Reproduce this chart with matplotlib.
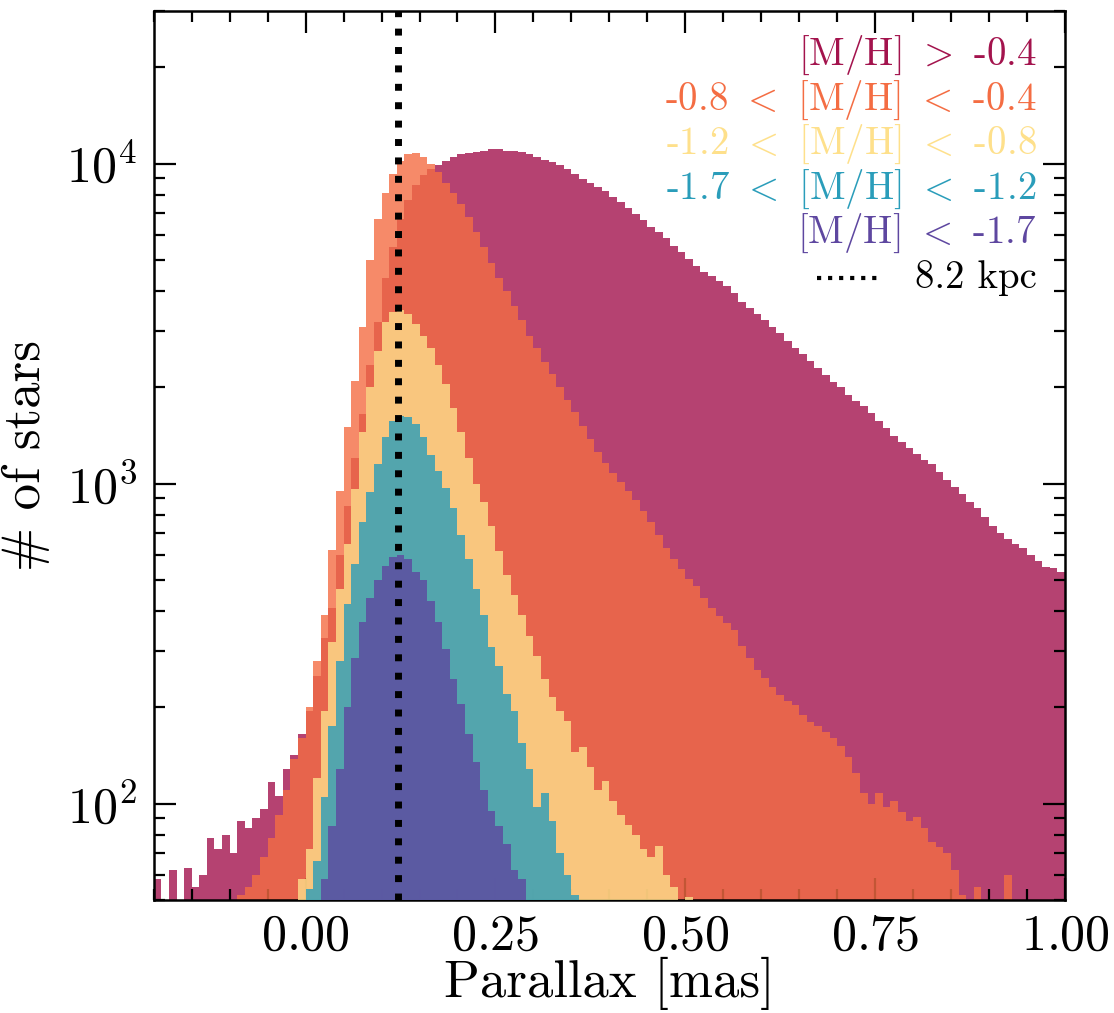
import numpy as np
import matplotlib.pyplot as plt
from matplotlib.ticker import MultipleLocator

plt.rcParams["font.family"] = "serif"
plt.rcParams["font.serif"] = ["cmr10"]
plt.rcParams["mathtext.fontset"] = "cm"
plt.rcParams["axes.formatter.use_mathtext"] = True
plt.rcParams["axes.unicode_minus"] = False

# parallax binning (mas): 120 bins of 0.01 from -0.2 to 1.0
bin_lo, bin_hi, n_bins = -0.2, 1.0, 120

# star counts per bin, one list per metallicity group
counts_gt_04 = [
    58, 48, 62, 45, 63, 55, 60, 78, 72, 80,
    70, 88, 84, 90, 96, 117, 106, 128, 142, 165,
    195, 250, 330, 410, 600, 850, 1200, 1650, 2350, 3200,
    4400, 5500, 6700, 7700, 8600, 9200, 9600, 9900, 10200, 10500,
    10700, 10800, 10900, 11000, 11100, 11100, 11000, 11000, 10900, 10700,
    10500, 10300, 10100, 9900, 9600, 9300, 8950, 8700, 8450, 8200,
    7900, 7600, 7300, 6950, 6650, 6350, 6100, 5850, 5550, 5300,
    5050, 4800, 4600, 4450, 4300, 4150, 3950, 3700, 3550, 3400,
    3250, 3100, 2950, 2800, 2650, 2550, 2420, 2300, 2180, 2080,
    2000, 1900, 1820, 1750, 1660, 1570, 1490, 1410, 1350, 1290,
    1240, 1190, 1150, 1090, 1030, 980, 930, 880, 840, 790,
    740, 700, 670, 650, 630, 600, 575, 550, 545, 530,
]
counts_08_04 = [
    0, 0, 0, 0, 0, 0, 0, 0, 0, 42,
    48, 52, 55, 60, 68, 78, 92, 110, 138, 160,
    200, 280, 390, 620, 950, 1500, 2100, 3100, 5000, 6700,
    8100, 9300, 10200, 10700, 10800, 10500, 10000, 9400, 8700, 8100,
    7500, 6800, 6100, 5500, 4900, 4400, 4000, 3600, 3250, 2900,
    2650, 2400, 2200, 2000, 1830, 1680, 1520, 1380, 1260, 1160,
    1080, 1010, 950, 890, 820, 760, 690, 630, 580, 540,
    505, 480, 440, 410, 385, 368, 350, 312, 285, 262,
    248, 232, 218, 210, 204, 190, 180, 175, 168, 160,
    152, 140, 125, 108, 100, 108, 98, 102, 94, 88,
    91, 84, 76, 73, 70, 62, 52, 48, 55, 47,
    45, 42, 60, 40, 38, 44, 36, 35, 33, 32,
]
counts_12_08 = [
    0, 0, 0, 0, 0, 0, 0, 0, 0, 0,
    0, 0, 0, 0, 0, 0, 0, 0, 40, 58,
    72, 120, 195, 320, 470, 650, 960, 1450, 2000, 2600,
    3200, 3450, 3500, 3400, 3150, 2900, 2650, 2350, 2050, 1720,
    1450, 1200, 1000, 880, 740, 615, 520, 450, 390, 335,
    290, 245, 215, 195, 182, 145, 150, 130, 110, 118,
    102, 92, 86, 80, 72, 68, 74, 60, 55, 42,
    51, 0, 0, 0, 0, 0, 0, 0, 0, 0,
    0, 0, 0, 0, 0, 0, 0, 0, 0, 0,
    0, 0, 0, 0, 0, 0, 0, 0, 0, 0,
    0, 0, 0, 0, 0, 0, 0, 0, 0, 0,
    0, 0, 0, 0, 0, 0, 0, 0, 0, 0,
]
counts_17_12 = [
    0, 0, 0, 0, 0, 0, 0, 0, 0, 0,
    0, 0, 0, 0, 0, 0, 0, 0, 0, 45,
    54, 66, 105, 175, 280, 420, 560, 760, 940, 1150,
    1400, 1570, 1630, 1620, 1540, 1400, 1230, 1100, 970, 840,
    690, 580, 470, 390, 310, 270, 220, 195, 155, 128,
    98, 108, 88, 70, 60, 52, 40, 0, 0, 0,
    0, 0, 0, 0, 0, 0, 0, 0, 0, 0,
    0, 0, 0, 0, 0, 0, 0, 0, 0, 0,
    0, 0, 0, 0, 0, 0, 0, 0, 0, 0,
    0, 0, 0, 0, 0, 0, 0, 0, 0, 0,
    0, 0, 0, 0, 0, 0, 0, 0, 0, 0,
    0, 0, 0, 0, 0, 0, 0, 0, 0, 0,
]
counts_lt_17 = [
    0, 0, 0, 0, 0, 0, 0, 0, 0, 0,
    0, 0, 0, 0, 0, 0, 0, 0, 0, 0,
    0, 42, 58, 85, 128, 200, 285, 370, 440, 500,
    555, 590, 600, 580, 530, 500, 430, 370, 305, 245,
    205, 165, 135, 110, 95, 85, 75, 62, 58, 45,
    0, 0, 0, 0, 0, 0, 0, 0, 0, 0,
    0, 0, 0, 0, 0, 0, 0, 0, 0, 0,
    0, 0, 0, 0, 0, 0, 0, 0, 0, 0,
    0, 0, 0, 0, 0, 0, 0, 0, 0, 0,
    0, 0, 0, 0, 0, 0, 0, 0, 0, 0,
    0, 0, 0, 0, 0, 0, 0, 0, 0, 0,
    0, 0, 0, 0, 0, 0, 0, 0, 0, 0,
]

labels = [
    r"[M/H] $>$ -0.4",
    r"-0.8 $<$ [M/H] $<$ -0.4",
    r"-1.2 $<$ [M/H] $<$ -0.8",
    r"-1.7 $<$ [M/H] $<$ -1.2",
    r"[M/H] $<$ -1.7",
]
colors = ["#A3134D", "#F46D43", "#FEE08B", "#2A9DBA", "#5E47A0"]

r_gc_kpc = 8.2


def plot_parallax_hist(out_path="out.png"):
    edges = np.linspace(bin_lo, bin_hi, n_bins + 1)
    groups = [counts_gt_04, counts_08_04, counts_12_08, counts_17_12, counts_lt_17]

    fig, ax = plt.subplots(figsize=(5.57, 5.065), dpi=200)
    fig.subplots_adjust(left=0.138, right=0.956, bottom=0.1115, top=0.989)

    for k, (cnt, c) in enumerate(zip(groups, colors)):
        cnt = np.maximum(np.asarray(cnt, dtype=float), 1.0)
        ax.stairs(cnt, edges, baseline=1.0, fill=True, color=c, alpha=0.8,
                  lw=0, zorder=1 + k)

    # parallax of the Galactic centre distance
    ax.axvline(1.0 / r_gc_kpc, color="k", ls=":", lw=2.5, zorder=10)

    ax.set_yscale("log")
    ax.set_xlim(bin_lo, bin_hi)
    ax.set_ylim(50, 3e4)

    ax.xaxis.set_major_locator(MultipleLocator(0.25))
    ax.xaxis.set_minor_locator(MultipleLocator(0.05))
    ax.tick_params(which="both", direction="in", top=True, right=True,
                   width=0.8, labelsize=18)
    ax.tick_params(which="major", length=8)
    ax.tick_params(which="minor", length=4)
    ax.tick_params(axis="x", pad=5)
    ax.tick_params(axis="y", pad=6)
    for sp in ax.spines.values():
        sp.set_linewidth(0.9)

    ax.set_xlabel("Parallax [mas]", fontsize=19, labelpad=-1)
    ax.set_ylabel("# of stars", fontsize=19, labelpad=6)

    # coloured text legend, right aligned
    y0, dy = 0.950, 0.0500
    for k, (lab, c) in enumerate(zip(labels, colors)):
        ax.text(0.969, y0 - k * dy, lab, color=c, fontsize=14,
                ha="right", va="center", transform=ax.transAxes, zorder=20)
    y_line = y0 - len(labels) * dy
    ax.plot([0.728, 0.799], [y_line, y_line], color="k", ls=":", lw=1.5,
            transform=ax.transAxes, zorder=20)
    ax.text(0.969, y_line, f"{r_gc_kpc} kpc", color="k", fontsize=14,
            ha="right", va="center", transform=ax.transAxes, zorder=20)

    fig.savefig(out_path, dpi=200)
    plt.close(fig)


if __name__ == "__main__":
    plot_parallax_hist()
